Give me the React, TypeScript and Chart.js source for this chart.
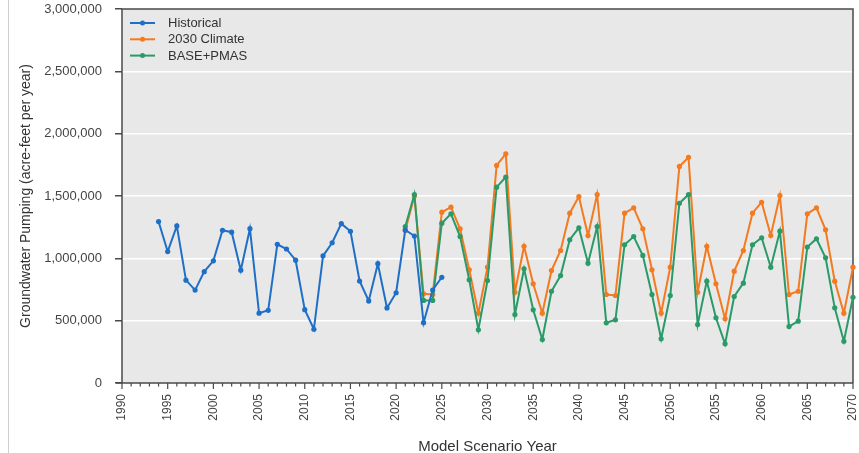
import React, { useEffect, useRef } from "react";
import { Chart, registerables } from "chart.js";

Chart.register(...registerables);

const historicalStart = 1994;
const historicalValues = [
  1295000, 1055000, 1260000, 825000, 745000, 893000, 980000, 1225000, 1210000, 905000,
  1238000, 560000, 583000, 1112000, 1075000, 985000, 588000, 431000, 1020000, 1125000,
  1278000, 1217000, 818000, 658000, 957000, 602000, 724000, 1227000, 1179000, 484000,
  746000, 848000,
];

const scenarioStart = 2021;
const climate2030Values = [
  1223000, 1500000, 715000, 710000, 1370000, 1410000, 1237000, 908000, 560000, 929000,
  1745000, 1838000, 728000, 1097000, 796000, 560000, 902000, 1063000, 1362000, 1496000,
  1183000, 1512000, 710000, 702000, 1362000, 1405000, 1237000, 908000, 560000, 929000,
  1737000, 1811000, 728000, 1097000, 796000, 515000, 897000, 1063000, 1362000, 1450000,
  1183000, 1504000, 710000, 736000, 1357000, 1405000, 1229000, 817000, 560000, 929000,
];
const basePmasValues = [
  1255000, 1512000, 662000, 662000, 1282000, 1357000, 1175000, 828000, 427000, 822000,
  1571000, 1651000, 549000, 916000, 587000, 349000, 736000, 862000, 1149000, 1245000,
  961000, 1255000, 483000, 507000, 1109000, 1175000, 1023000, 710000, 355000, 702000,
  1442000, 1512000, 469000, 817000, 523000, 314000, 694000, 801000, 1109000, 1165000,
  929000, 1218000, 453000, 496000, 1090000, 1157000, 1004000, 603000, 335000, 688000,
];

const seriesLabels = ["Historical", "2030 Climate", "BASE+PMAS"];
const seriesColors = ["#1f6fc6", "#f47a20", "#2a9a68"];

const xMin = 1990;
const xMax = 2070;
const yMax = 3000000;
const yStep = 500000;

const FONT = "'Liberation Sans', Arial, sans-serif";

const toPoints = (start: number, vals: number[]) =>
  vals.map((v, i) => ({ x: start + i, y: v }));

const framePlugin = {
  id: "frame",
  beforeDraw(chart: any) {
    const { ctx, chartArea: a } = chart;
    ctx.save();
    ctx.fillStyle = "#e8e8e8";
    ctx.fillRect(a.left, a.top, a.right - a.left, a.bottom - a.top);
    ctx.strokeStyle = "#cfcfcf";
    ctx.lineWidth = 1;
    ctx.beginPath();
    ctx.moveTo(8.5, 0);
    ctx.lineTo(8.5, chart.height);
    ctx.stroke();
    ctx.restore();
  },
  beforeDatasetsDraw(chart: any) {
    const { ctx, chartArea: a } = chart;
    const xs = chart.scales.x;
    ctx.save();
    ctx.strokeStyle = "#4a4a4a";
    ctx.lineWidth = 1.5;
    ctx.beginPath();
    ctx.moveTo(a.left, a.bottom);
    ctx.lineTo(a.left, a.top);
    ctx.lineTo(a.right, a.top);
    ctx.lineTo(a.right, a.bottom);
    ctx.moveTo(a.left - 6, a.bottom);
    ctx.lineTo(a.right, a.bottom);
    ctx.stroke();
    ctx.lineWidth = 1.2;
    ctx.beginPath();
    for (let yr = xMin; yr <= xMax; yr++) {
      const px = xs.getPixelForValue(yr);
      const len = yr % 5 === 0 ? 6 : 3.5;
      ctx.moveTo(px, a.bottom);
      ctx.lineTo(px, a.bottom + len);
    }
    ctx.stroke();
    ctx.restore();
  },
  afterDatasetsDraw(chart: any) {
    const { ctx, chartArea: a } = chart;
    ctx.save();
    chart.data.datasets.forEach((ds: any, i: number) => {
      const y = a.top + 14 + i * 16.3;
      const x0 = a.left + 8;
      const x1 = a.left + 33;
      ctx.strokeStyle = ds.borderColor;
      ctx.lineWidth = 2;
      ctx.beginPath();
      ctx.moveTo(x0, y);
      ctx.lineTo(x1, y);
      ctx.stroke();
      ctx.fillStyle = ds.borderColor;
      ctx.beginPath();
      ctx.arc((x0 + x1) / 2, y, 2.5, 0, Math.PI * 2);
      ctx.fill();
      ctx.fillStyle = "#333";
      ctx.font = `13px ${FONT}`;
      ctx.textBaseline = "middle";
      ctx.textAlign = "left";
      ctx.fillText(ds.label, a.left + 46, y + 0.5);
    });
    ctx.restore();
  },
};

export default function App() {
  const ref = useRef<HTMLCanvasElement>(null);

  useEffect(() => {
    if (!ref.current) return;
    const mk = (label: string, color: string, data: any[], order: number) => ({
      label,
      data,
      borderColor: color,
      backgroundColor: color,
      borderWidth: 2,
      pointRadius: 2.6,
      pointHoverRadius: 2.6,
      pointBorderWidth: 0,
      pointBackgroundColor: color,
      tension: 0,
      clip: false as any,
      order,
    });
    const chart = new Chart(ref.current, {
      type: "line",
      data: {
        datasets: [
          mk(seriesLabels[0], seriesColors[0], toPoints(historicalStart, historicalValues), 0),
          mk(seriesLabels[1], seriesColors[1], toPoints(scenarioStart, climate2030Values), 2),
          mk(seriesLabels[2], seriesColors[2], toPoints(scenarioStart, basePmasValues), 1),
        ],
      },
      options: {
        animation: false,
        responsive: false,
        maintainAspectRatio: false,
        layout: { padding: { top: 9, right: 6, left: 0, bottom: 0 } },
        plugins: {
          legend: { display: false },
          tooltip: { enabled: false },
          title: { display: false },
        },
        scales: {
          x: {
            type: "linear",
            min: xMin,
            max: xMax,
            afterFit: (s: any) => {
              s.height = 70;
              s.paddingLeft = 0;
              s.paddingRight = 0;
            },
            grid: { display: false, drawTicks: false },
            border: { display: false },
            ticks: {
              stepSize: 1,
              autoSkip: false,
              maxRotation: 90,
              minRotation: 90,
              padding: 11,
              color: "#444",
              font: { family: FONT, size: 12 },
              callback: (v: any) => (Number(v) % 5 === 0 ? String(v) : ""),
            },
            title: {
              display: true,
              text: "Model Scenario Year",
              color: "#333",
              font: { family: FONT, size: 15 },
              padding: { top: 0, bottom: -3 },
            },
          },
          y: {
            min: 0,
            max: yMax,
            afterFit: (s: any) => {
              s.width = 122;
              s.paddingTop = 0;
              s.paddingBottom = 0;
            },
            grid: {
              color: (c: any) =>
                c.tick && (c.tick.value === 0 || c.tick.value === yMax) ? "rgba(0,0,0,0)" : "#ffffff",
              lineWidth: 1.5,
              tickColor: "#4a4a4a",
              tickLength: 7,
              drawTicks: true,
            },
            border: { display: false },
            ticks: {
              stepSize: yStep,
              padding: 13,
              color: "#444",
              font: { family: FONT, size: 13 },
              callback: (v: any) => Number(v).toLocaleString("en-US"),
            },
            title: {
              display: true,
              text: "Groundwater Pumping (acre-feet per year)",
              color: "#333",
              font: { family: FONT, size: 14 },
              padding: { top: 18, bottom: 0 },
            },
          },
        },
      },
      plugins: [framePlugin],
    });
    return () => chart.destroy();
  }, []);

  return (
    <canvas
      ref={ref}
      width={859}
      height={453}
      style={{ position: "fixed", left: 0, top: 0, display: "block", width: 859, height: 453 }}
    />
  );
}
